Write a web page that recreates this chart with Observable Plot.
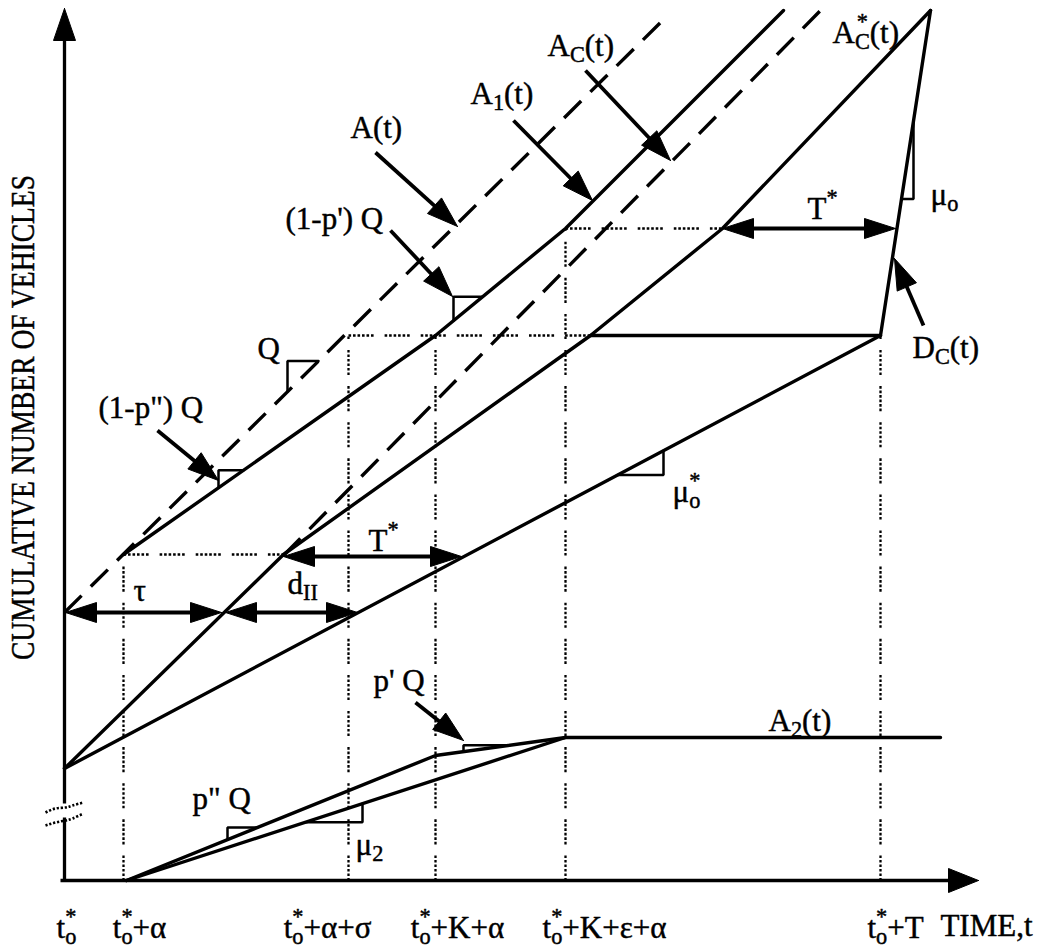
<!DOCTYPE html>
<html>
<head>
<meta charset="utf-8">
<script src="https://cdn.jsdelivr.net/npm/d3@7"></script>
<script src="https://cdn.jsdelivr.net/npm/@observablehq/plot@0.6"></script>
<style>
  html, body { margin: 0; padding: 0; background: #fff; overflow: hidden; }
</style>
</head>
<body>
<div id="chart"></div>
<script>
// ---------------- DATA (time t from t_o*, cumulative vehicles N) ----------------
const tickTimes = [0, 59, 284, 371, 501, 816];
const tickLabels = ["t_o^*", "t_o^*+α", "t_o^*+α+σ", "t_o^*+K+α", "t_o^*+K+ε+α", "t_o^*+T"];
const tickLabelCenters = [2, 75, 263, 393, 540, 831];
const xTitle = "TIME,t";
const yTitle = "CUMULATIVE NUMBER OF VEHICLES";

// cumulative curves: [t, N]
const curveA      = [[0, 268], [596, 858]];                                   // A(t), slope Q (dashed)
const curveA1     = [[59, 326], [371, 545], [501, 652], [719, 870]];          // A1(t)
const curveAc     = [[219, 325], [758, 872]];                                 // Ac(t) (dashed)
const curveAcStar = [[0, 112], [219, 326], [526, 545], [658, 652], [866, 870]]; // Ac*(t)
const curveD      = [[0, 112], [816, 545]];                                   // slope μo*
const curveDc     = [[526, 545], [816, 545], [866, 870]];                     // Dc(t)
const curveA2     = [[62, 0], [371, 125], [501, 143], [876, 143]];            // A2(t)
const curveMu2    = [[62, 0], [501, 143]];                                    // slope μ2

// dotted guides
const guideVerticals = [[59, 326], [284, 545], [371, 545], [501, 652], [816, 545]]; // [t, top N]
const guideHorizontals = [[326, 59, 219], [545, 284, 526], [652, 501, 658]];       // [N, t1, t2]

// slope triangles: [curve, t1, t2, corner]
const slopeMarks = [
  ["A", 223, 254, "ul"],     // Q
  ["A1", 154, 179, "ul"],    // (1-p")Q
  ["A1", 389, 418, "ul"],    // (1-p')Q
  ["D", 553, 599, "lr"],     // μo*
  ["Dc", 837, 849, "lr"],    // μo
  ["A2", 163, 193, "ul"],    // p"Q
  ["A2", 399, 445, "ul"],    // p'Q
  ["Mu2", 241, 298, "lr"]    // μ2
];

// interval (double-headed) arrows: [t1, t2, N]
const intervalArrows = [[1, 157, 268], [161, 293, 268], [219, 397, 324], [658, 831, 652]];
const intervalNames = ["τ", "d_{II}", "T^*", "T^*"];
const intervalLabelPos = [[69, 280], [223, 287], [304, 330], [743, 662]];

// pointer arrows: [tFrom, nFrom, tTip, nTip]
const pointerArrows = [
  [311, 728, 393, 654],
  [449, 760, 528, 680],
  [521, 810, 606, 720],
  [326, 650, 388, 584],
  [93, 450, 154, 400],
  [351, 178, 399, 140],
  [859, 555, 830, 622]
];

// text labels: [text, t(left), N(baseline)]
const annotations = [
  ["A(t)", 286, 743],
  ["A_1(t)", 406, 777],
  ["A_C(t)", 483, 825],
  ["A_C^*(t)", 768, 838],
  ["D_C(t)", 848, 523],
  ["A_2(t)", 704, 150],
  ["Q", 193, 522],
  ["(1-p\") Q", 34, 463],
  ["(1-p') Q", 221, 652],
  ["p\" Q", 128, 72],
  ["p' Q", 309, 190],
  ["μ_2", 291, 26],
  ["μ_o^*", 608, 379],
  ["μ_o", 866, 676]
];

// axes
const yAxisTip = 872, xAxisTip = 914, axisBreak = [63, 77];
const breakMarks = [
  [[-19, 68], [-9, 72], [1, 73], [8, 75], [19, 78]],
  [[-19, 55], [-9, 58], [1, 60], [8, 62], [19, 67]]
];

// ---------------- BUILD ----------------
const curves = {A: curveA, A1: curveA1, Ac: curveAc, AcStar: curveAcStar, D: curveD, Dc: curveDc, A2: curveA2, Mu2: curveMu2};
const pts = (arr, key) => arr.map(([t, n]) => ({t, n, key}));
function interp(curve, t) {
  for (let i = 0; i < curve.length - 1; i++) {
    const [t0, n0] = curve[i], [t1, n1] = curve[i + 1];
    if (t >= t0 && t <= t1) return n0 + (n1 - n0) * (t - t0) / (t1 - t0);
  }
  return curve[curve.length - 1][1];
}
function head(tip, from, len, hw, key) {
  const dx = tip[0] - from[0], dy = tip[1] - from[1];
  const L = Math.hypot(dx, dy), ux = dx / L, uy = dy / L;
  const bx = tip[0] - ux * len, by = tip[1] - uy * len;
  return pts([[tip[0], tip[1]], [bx - uy * hw, by + ux * hw], [bx + uy * hw, by - ux * hw], [tip[0], tip[1]]], key);
}
function back(tip, from, d) {
  const dx = tip[0] - from[0], dy = tip[1] - from[1];
  const L = Math.hypot(dx, dy);
  return [tip[0] - dx / L * d, tip[1] - dy / L * d];
}

const solidData = ["A1", "AcStar", "D", "Dc", "A2", "Mu2"].flatMap(k => pts(curves[k], k));
const dashedData = ["A", "Ac"].flatMap(k => pts(curves[k], k));

const guideData = [
  ...guideVerticals.flatMap(([t, top], i) => pts([[t, 0], [t, top]], "v" + i)),
  ...guideHorizontals.flatMap(([n, t1, t2], i) => pts([[t1, n], [t2, n]], "h" + i))
];

const markData = slopeMarks.flatMap(([c, t1, t2, corner], i) => {
  const n1 = interp(curves[c], t1), n2 = interp(curves[c], t2);
  const poly = corner === "ul" ? [[t1, n1], [t1, n2], [t2, n2]] : [[t1, n1], [t2, n1], [t2, n2]];
  return pts(poly, "m" + i);
});

const HL = 31, HW = 10;
const shaftData = [], headData = [];
intervalArrows.forEach(([t1, t2, n], i) => {
  const a = [t1, n], b = [t2, n];
  shaftData.push(...pts([back(a, b, HL * 0.6), back(b, a, HL * 0.6)], "i" + i));
  headData.push(...head(a, b, HL, HW, "ia" + i), ...head(b, a, HL, HW, "ib" + i));
});
pointerArrows.forEach(([tf, nf, tt, nt], i) => {
  const f = [tf, nf], tip = [tt, nt];
  shaftData.push(...pts([f, back(tip, f, HL * 0.6)], "p" + i));
  headData.push(...head(tip, f, HL, HW + 0.5, "ph" + i));
});

const axisData = [
  ...pts([[0, 0], [0, axisBreak[0]]], "y0"),
  ...pts([[0, axisBreak[1]], [0, yAxisTip - 20]], "y1"),
  ...pts([[-4, 0], [xAxisTip - 20, 0]], "x0")
];
headData.push(...head([0, yAxisTip], [0, 0], 32, 11, "yh"), ...head([xAxisTip, 0], [0, 0], 30, 12, "xh"));
const breakData = breakMarks.flatMap((b, i) => pts(b, "b" + i));

const tickData = tickLabels.map((text, i) => ({text, t: tickLabelCenters[i], n: -57}));
tickData.push({text: xTitle, t: 922, n: -55});
const labelData = [
  ...annotations.map(([text, t, n]) => ({text, t, n})),
  ...intervalNames.map((text, i) => ({text, t: intervalLabelPos[i][0], n: intervalLabelPos[i][1]}))
];

const serif = "'Liberation Serif', 'Times New Roman', Times, serif";
const ink = "#000";
const dotPattern = "2.6,1.9,2.6,1.9,2.6,1.9,2.6,1.9,2.6,1.9,2.6,11";
const textStyle = {fontFamily: serif, fill: ink, stroke: ink, strokeWidth: 0.45};

const plot = Plot.plot({
  width: 1043,
  height: 949,
  margin: 0,
  x: {domain: [-64, 979], range: [0, 1043], axis: null},
  y: {domain: [-69, 880], range: [949, 0], axis: null},
  style: {fontFamily: serif, background: "#fff", color: ink},
  marks: [
    Plot.line(guideData, {x: "t", y: "n", z: "key", stroke: ink, strokeWidth: 2.3, strokeDasharray: dotPattern, strokeLinecap: "butt"}),
    Plot.line(axisData, {x: "t", y: "n", z: "key", stroke: ink, strokeWidth: 3.3, strokeLinecap: "butt"}),
    Plot.line(breakData, {x: "t", y: "n", z: "key", stroke: ink, strokeWidth: 2.6, strokeDasharray: "2.2,1.8", strokeLinecap: "butt", curve: "natural"}),
    Plot.line(solidData, {x: "t", y: "n", z: "key", stroke: ink, strokeWidth: 3.4}),
    Plot.line(dashedData, {x: "t", y: "n", z: "key", stroke: ink, strokeWidth: 3.4, strokeDasharray: "24,13", strokeLinecap: "butt"}),
    Plot.line(markData, {x: "t", y: "n", z: "key", stroke: ink, strokeWidth: 2.5, strokeLinejoin: "miter"}),
    Plot.line(shaftData, {x: "t", y: "n", z: "key", stroke: ink, strokeWidth: 3.8, strokeLinecap: "butt"}),
    Plot.line(headData, {x: "t", y: "n", z: "key", stroke: ink, fill: ink, strokeWidth: 1, strokeLinejoin: "miter"}),
    Plot.text(tickData, {x: "t", y: "n", text: "text", fontSize: 31, ...textStyle, textAnchor: "middle", lineAnchor: "bottom"}),
    Plot.text(labelData, {x: "t", y: "n", text: "text", fontSize: 31, ...textStyle, textAnchor: "start", lineAnchor: "bottom"}),
    Plot.text([{text: yTitle, t: -41, n: 463}], {x: "t", y: "n", text: "text", fontSize: 34, ...textStyle, rotate: -90, textAnchor: "middle"})
  ]
});
document.getElementById("chart").append(plot);

// rich text: "_x" / "_{xx}" subscript, "^x" superscript (stacked over a preceding subscript)
const NS = "http://www.w3.org/2000/svg";
function rich(el) {
  const s = el.textContent;
  if (!/[_^]/.test(s)) return;
  const fs = parseFloat(getComputedStyle(el).fontSize) || 31;
  const toks = [];
  for (let i = 0; i < s.length;) {
    const c = s[i];
    if (c === "_" || c === "^") {
      let body;
      if (s[i + 1] === "{") { const j = s.indexOf("}", i); body = s.slice(i + 2, j); i = j + 1; }
      else { body = s[i + 1]; i += 2; }
      toks.push({kind: c === "_" ? "sub" : "sup", body});
    } else {
      let j = i;
      while (j < s.length && s[j] !== "_" && s[j] !== "^") j++;
      toks.push({kind: "base", body: s.slice(i, j)});
      i = j;
    }
  }
  el.textContent = "";
  let level = 0, prev = null, pending = 0;
  for (const tok of toks) {
    const ts = document.createElementNS(NS, "tspan");
    ts.textContent = tok.body;
    let target, size;
    if (tok.kind === "base") { target = 0; size = fs; }
    else if (tok.kind === "sub") { target = 0.22 * fs; size = 0.72 * fs; }
    else { target = -0.45 * fs; size = 0.72 * fs; }
    ts.setAttribute("font-size", size);
    const dy = target - level;
    if (dy) ts.setAttribute("dy", dy);
    level = target;
    el.appendChild(ts);
    if (tok.kind === "sup" && prev && prev.kind === "sub") {
      const ws = prev.el.getComputedTextLength();
      const wt = ts.getComputedTextLength();
      ts.setAttribute("dx", -ws + (ws - wt) / 2);
      pending = (ws - wt) / 2;
    } else if (pending) {
      ts.setAttribute("dx", pending);
      pending = 0;
    }
    prev = {kind: tok.kind, el: ts};
  }
}
d3.select(plot).selectAll("text").each(function () { rich(this); });
d3.select(plot).selectAll("text").filter(function () { return this.textContent === yTitle; })
  .attr("textLength", 485).attr("lengthAdjust", "spacingAndGlyphs");
</script>
</body>
</html>
